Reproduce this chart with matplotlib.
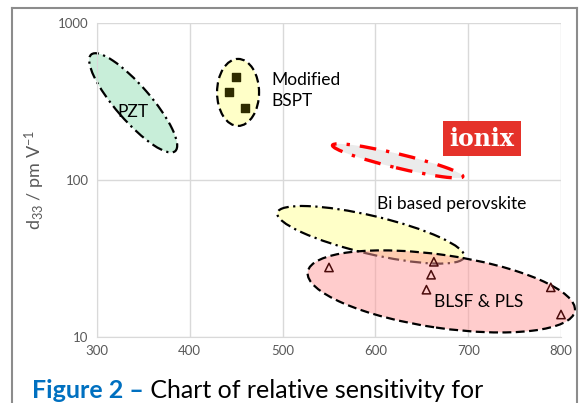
import matplotlib
matplotlib.use("Agg")
import matplotlib.pyplot as plt
from matplotlib.patches import Ellipse, Rectangle
from matplotlib.lines import Line2D
from matplotlib.transforms import Affine2D, ScaledTranslation

plt.rcParams['font.family'] = ['Lato', 'DejaVu Sans']
plt.rcParams['mathtext.fontset'] = 'custom'
plt.rcParams['mathtext.rm'] = 'Lato'
plt.rcParams['mathtext.it'] = 'Lato:italic'
plt.rcParams['mathtext.bf'] = 'Lato:bold'

# ---- data ----
x_ticks = [300, 400, 500, 600, 700, 800]
y_ticks = [10, 100, 1000]
y_tick_labels = ["10", "100", "1000"]

bspt_x = [450, 442, 460]
bspt_y = [450, 360, 285]

blsf_x = [550, 663, 660, 655, 789, 800]
blsf_y = [27.7, 30.1, 24.9, 20.0, 20.7, 13.9]

# region annotations (centre in data units, size in pixels, angle in degrees)
region_names = ["PZT", "Modified BSPT", "ionix", "Bi based perovskite", "BLSF & PLS"]
region_cx = [339, 452, 624, 595, 671]
region_cy = [309, 360, 132, 44.7, 19.5]
region_w_px = [128, 42, 134, 192, 270]
region_h_px = [35, 67, 14, 38, 73]
region_angle = [-49, 0, -13.5, -13.3, -8.3]
region_fill = ["#c8eed9", "#ffffc8", "#ebebeb", "#ffffc8", "#ff9a9a"]
region_alpha = [1, 1, 1, 1, 0.5]
region_edge = ["black", "black", "#ff0000", "black", "black"]
region_ls = [(0, (5, 2, 1, 2)), (0, (4, 2)), (0, (5, 3, 1, 3)), (0, (5, 2, 1, 2)), (0, (4, 2))]
region_lw = [1.6, 1.6, 2.4, 1.6, 1.6]

fig = plt.figure(figsize=(5.8, 4.03), dpi=100)
ax = fig.add_axes([97/580, 1-337/403, (561-97)/580, (337-22.7)/403])

ax.set_yscale('log')
ax.set_xlim(300, 800)
ax.set_ylim(10, 1000)
ax.set_xticks(x_ticks)
ax.set_yticks(y_ticks)
ax.set_yticklabels(y_tick_labels)
ax.minorticks_off()
ax.tick_params(length=0, labelsize=9.5, colors="#595959", pad=6)
ax.grid(True, color="#d9d9d9", lw=1)
ax.set_axisbelow(True)
for s in ['top', 'right']:
    ax.spines[s].set_visible(False)
for s in ['left', 'bottom']:
    ax.spines[s].set_color("#d9d9d9")

ax.set_ylabel("d$_{33}$ / pm V$^{-1}$", fontsize=13, color="#595959", labelpad=8)

px2pt = 72 / fig.dpi
for i in range(len(region_names)):
    tr = Affine2D().scale(fig.dpi / 72) + ScaledTranslation(region_cx[i], region_cy[i], ax.transData)
    fill = Ellipse((0, 0), region_w_px[i] * px2pt, region_h_px[i] * px2pt, angle=region_angle[i],
                   facecolor=region_fill[i], alpha=region_alpha[i], edgecolor='none',
                   transform=tr, clip_on=False, zorder=2 + i * 0.1)
    edge = Ellipse((0, 0), region_w_px[i] * px2pt, region_h_px[i] * px2pt, angle=region_angle[i],
                   facecolor='none', edgecolor=region_edge[i], lw=region_lw[i],
                   linestyle=region_ls[i], transform=tr, clip_on=False, zorder=2.05 + i * 0.1)
    ax.add_patch(fill)
    ax.add_patch(edge)

ax.scatter(bspt_x, bspt_y, marker='s', s=36, color="#2e2b00", zorder=5, clip_on=False)
ax.scatter(blsf_x, blsf_y, marker='^', s=36, facecolor='none', edgecolor="#4a0a0a",
           lw=1.1, zorder=5, clip_on=False)

ax.text(339, 309 * 0.88, "PZT", fontsize=12.5, ha='center', va='center', zorder=6)
ax.text(0.375, 0.785, "Modified\nBSPT", transform=ax.transAxes, fontsize=12.5,
        ha='left', va='center', linespacing=1.35, zorder=6)
ax.text(0.604, 0.422, "Bi based perovskite", transform=ax.transAxes, fontsize=12.5,
        ha='left', va='center', zorder=6)
ax.text(0.823, 0.11, "BLSF & PLS", transform=ax.transAxes, fontsize=12.5,
        ha='center', va='center', zorder=6)

# ionix badge
fig.patches.append(Rectangle((443/580, 1-156/403), 78/580, 35/403, transform=fig.transFigure,
                             facecolor="#e5322a", edgecolor='none', zorder=7))
fig.text(482/580, 1-139/403, "ionix", fontsize=17, fontweight='bold', family='DejaVu Serif',
         color='white', ha='center', va='center', zorder=8)

# outer frame
frame_kw = dict(transform=fig.transFigure, color="#8c8c8c", lw=1.5, zorder=0)
fig.lines.append(Line2D([12/580, 12/580], [0, 1-8/403], **frame_kw))
fig.lines.append(Line2D([577/580, 577/580], [0, 1-8/403], **frame_kw))
fig.lines.append(Line2D([12/580, 577/580], [1-8/403, 1-8/403], **frame_kw))

t1 = fig.text(32/580, 1-398/403, "Figure 2 \u2013", fontsize=18, fontweight='bold',
              color="#0070c0", ha='left', va='baseline')
fig.canvas.draw()
ax.annotate(" Chart of relative sensitivity for", xy=(1, 0), xycoords=t1, fontsize=18,
            color='black', ha='left', va='bottom', annotation_clip=False)

fig.savefig("out.png", dpi=100)
